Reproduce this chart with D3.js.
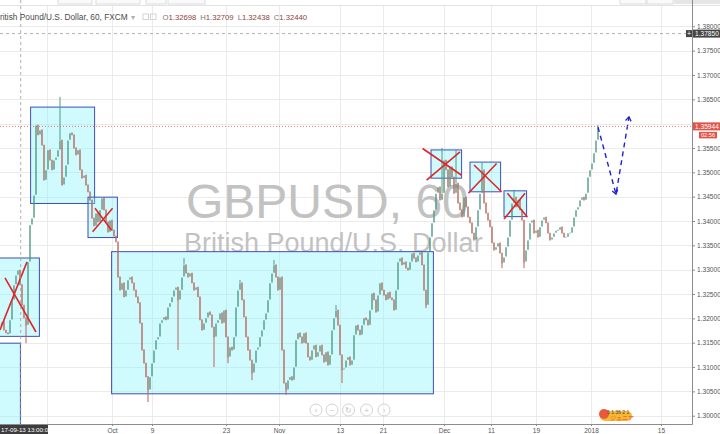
<!DOCTYPE html>
<html><head><meta charset="utf-8">
<script src="https://cdn.jsdelivr.net/npm/d3@7"></script>
<style>html,body{margin:0;padding:0;background:#fff;overflow:hidden}</style>
</head><body><svg id="c" width="720" height="434"></svg>
<script>
// ---- data (GBPUSD, 60, FXCM) sampled closes, one value per bar slot ----
const closes = [
1.3186,1.3193,1.3176,1.3170,1.3168,1.3197,1.3238,1.3269,1.3289,1.3299,
1.3269,1.3227,1.3201,1.3186,1.3316,1.3392,1.3406,1.3453,1.3597,1.3577,
1.3587,1.3556,1.3484,1.3505,1.3546,1.3525,1.3505,1.3525,1.3531,1.3546,
1.3566,1.3474,1.3490,1.3515,1.3566,1.3581,1.3577,1.3550,1.3536,1.3546,
1.3505,1.3488,1.3494,1.3474,1.3460,1.3443,1.3406,1.3390,1.3416,1.3398,
1.3423,1.3447,1.3423,1.3398,1.3377,1.3402,1.3381,1.3369,1.3357,1.3285,
1.3258,1.3273,1.3244,1.3258,1.3279,1.3285,1.3273,1.3258,1.3244,1.3232,
1.3190,1.3135,1.3108,1.3080,1.3053,1.3080,1.3108,1.3135,1.3156,1.3162,
1.3190,1.3197,1.3203,1.3197,1.3223,1.3232,1.3244,1.3258,1.3264,1.3238,
1.3258,1.3285,1.3310,1.3293,1.3285,1.3293,1.3273,1.3258,1.3264,1.3244,
1.3197,1.3176,1.3190,1.3201,1.3213,1.3207,1.3182,1.3162,1.3190,1.3197,
1.3211,1.3190,1.3217,1.3162,1.3121,1.3141,1.3135,1.3162,1.3223,1.3258,
1.3273,1.3238,1.3203,1.3162,1.3135,1.3114,1.3088,1.3108,1.3135,1.3141,
1.3162,1.3176,1.3197,1.3211,1.3238,1.3273,1.3293,1.3310,1.3285,1.3258,
1.3285,1.3135,1.3067,1.3053,1.3073,1.3080,1.3073,1.3100,1.3156,1.3170,
1.3162,1.3149,1.3170,1.3149,1.3121,1.3114,1.3135,1.3145,1.3121,1.3131,
1.3145,1.3125,1.3110,1.3131,1.3104,1.3125,1.3176,1.3201,1.3217,1.3186,
1.3125,1.3094,1.3098,1.3114,1.3121,1.3104,1.3114,1.3166,1.3186,1.3176,
1.3166,1.3186,1.3201,1.3197,1.3186,1.3217,1.3252,1.3238,1.3213,1.3248,
1.3273,1.3258,1.3248,1.3238,1.3254,1.3242,1.3238,1.3217,1.3258,1.3316,
1.3324,1.3310,1.3316,1.3303,1.3299,1.3316,1.3334,1.3324,1.3316,1.3330,
1.3336,1.3310,1.3258,1.3227,1.3336,1.3367,1.3396,1.3423,1.3457,1.3470,
1.3443,1.3457,1.3525,1.3505,1.3470,1.3511,1.3490,1.3457,1.3478,1.3437,
1.3423,1.3408,1.3449,1.3429,1.3408,1.3396,1.3375,1.3361,1.3388,1.3423,
1.3457,1.3505,1.3437,1.3416,1.3402,1.3388,1.3355,1.3340,1.3347,1.3355,
1.3334,1.3314,1.3326,1.3347,1.3367,1.3402,1.3437,1.3449,1.3429,1.3443,
1.3423,1.3402,1.3316,1.3340,1.3361,1.3396,1.3402,1.3375,1.3381,1.3367,
1.3388,1.3402,1.3408,1.3396,1.3375,1.3361,1.3367,1.3375,1.3381,1.3381,
1.3388,1.3375,1.3367,1.3367,1.3375,1.3375,1.3388,1.3408,1.3423,1.3429,
1.3443,1.3449,1.3443,1.3457,1.3490,1.3505,1.3519,1.3540,1.3566,1.3593
];
// notable wick extremes [bar, price]
const wicks = [[13,1.3149],[30,1.3655],[74,1.3028],[89,1.3135],[92,1.3324],[107,1.3100],
 [114,1.3108],[120,1.3279],[126,1.3073],[137,1.3320],[143,1.3043],[168,1.3227],[171,1.3067],
 [213,1.3221],[221,1.3550],[228,1.3546],[241,1.3519],[251,1.3303],[257,1.3464],[262,1.3303],[299,1.3597]];

const priceTicks = [1.300,1.305,1.310,1.315,1.320,1.325,1.330,1.335,1.340,1.345,1.350,1.355,1.360,1.365,1.370,1.375,1.380];
const timeTickBars   = [23.4, 56, 76, 113, 139.5, 170, 191.5, 222, 245.5, 268, 295.5, 330.5];
const timeTickLabels = ["", "Oct", "9", "23", "Nov", "13", "21", "Dec", "11", "19", "2018", "15"];

// drawings: rectangles [bar0, bar1, priceTop, priceBottom]
const boxes = [
 [-6, 19.7, 1.3324, 1.3163],
 [-6, 10.2, 1.3149, 1.2900],
 [15.3, 47.3, 1.3634, 1.3436],
 [44, 58.7, 1.3449, 1.3366],
 [55.8, 216.7, 1.3337, 1.3045],
 [215.5, 230.8, 1.3546, 1.3488],
 [235, 250.3, 1.3521, 1.3460],
 [252, 263.3, 1.3462, 1.3409]
];
// red cross strokes [[bar,price],[bar,price]]
const crosses = [
 [[0,1.3176],[13.5,1.3316]], [[2.5,1.3283],[18,1.3172]],
 [[46.3,1.3378],[56.3,1.3426]], [[47.5,1.3426],[55.8,1.3381]],
 [[211.3,1.3549],[230.8,1.3494]], [[213.3,1.3484],[230,1.3542]],
 [[237,1.3515],[250.8,1.3460]], [[234.2,1.3457],[248.3,1.3518]],
 [[253.7,1.3457],[263.7,1.3408]], [[252,1.3404],[262.5,1.3457]]
];
const projection = [[299,1.3593],[308,1.3455],[314.5,1.3614]];

const lastPrice = 1.35944, countdown = "02:56";
const crossPrice = 1.37850, crossBar = 10.35, crossLabel = "17-09-13 13:00:00";
const legendTitle = "British Pound/U.S. Dollar, 60, FXCM";
const ohlcKeys = ["O","H","L","C"];
const ohlcVals = ["1.32698","1.32709","1.32438","1.32440"];

// ---- scales ----
const PR = 692, PB = 424;
const x = d3.scaleLinear().domain([0, 346]).range([0, PR]);
const y = d3.scaleLinear().domain([1.30, 1.38]).range([415.7, 26.3]);

const svg = d3.select("#c");
const FONT = "'Liberation Sans', Arial, sans-serif";

svg.append("rect").attr("width",720).attr("height",434).attr("fill","#fff");

// top toolbar fragments
const tb = svg.append("g");
[[58,92],[96,140],[146,166],[168,205],[620,646],[647,673]].forEach(d=>{
  tb.append("rect").attr("x",d[0]).attr("y",-4).attr("width",d[1]-d[0]).attr("height",8)
    .attr("fill","#fafafa").attr("stroke","#d4d4d4").attr("stroke-width",0.8);
});
tb.append("rect").attr("x",674).attr("y",-4).attr("width",50).attr("height",8).attr("fill","#e6e6e6");
tb.append("line").attr("x1",0).attr("x2",720).attr("y1",5.5).attr("y2",5.5).attr("stroke","#e2e2e2");

// grid
const grid = svg.append("g");
grid.selectAll("line.h").data(priceTicks).join("line")
  .attr("x1",0).attr("x2",PR).attr("y1",d=>Math.round(y(d))+0.5).attr("y2",d=>Math.round(y(d))+0.5)
  .attr("stroke","#ebebeb");
grid.selectAll("line.v").data(timeTickBars).join("line")
  .attr("x1",d=>Math.round(x(d))+0.5).attr("x2",d=>Math.round(x(d))+0.5).attr("y1",6).attr("y2",PB)
  .attr("stroke","#ebebeb");

// watermark
svg.append("text").attr("x",186).attr("y",218).attr("font-family",FONT).attr("font-size",48)
  .attr("fill","#c2c2c2").text("GBPUSD, 60");
svg.append("text").attr("x",184).attr("y",252).attr("font-family",FONT).attr("font-size",27)
  .attr("fill","#c2c2c2").text("British Pound/U.S. Dollar");

// boxes
svg.append("g").selectAll("rect").data(boxes).join("rect")
  .attr("x",d=>x(d[0])).attr("y",d=>y(d[2]))
  .attr("width",d=>x(d[1])-x(d[0])).attr("height",d=>y(d[3])-y(d[2]))
  .attr("fill","rgba(130,245,252,0.38)").attr("stroke","#3f4fb3").attr("stroke-width",1);

// candles: body from previous close to close
const up = "#4f9a86", dn = "#b7675a";
const cg = svg.append("g");
cg.selectAll("line.w").data(wicks).join("line")
  .attr("x1",d=>x(d[0])).attr("x2",d=>x(d[0]))
  .attr("y1",d=>y(d[1])).attr("y2",d=>y(closes[d[0]]))
  .attr("stroke",d=>closes[d[0]] >= closes[Math.max(0,d[0]-1)] ? up : dn).attr("stroke-width",1);
cg.selectAll("line.b").data(closes).join("line")
  .attr("x1",(d,i)=>x(i)).attr("x2",(d,i)=>x(i))
  .attr("y1",(d,i)=>y(i?closes[i-1]:d)-0.4).attr("y2",d=>y(d)+0.4)
  .attr("stroke",(d,i)=> d >= (i?closes[i-1]:d) ? up : dn).attr("stroke-width",1.4);

// crosses
svg.append("g").selectAll("line").data(crosses).join("line")
  .attr("x1",d=>x(d[0][0])).attr("y1",d=>y(d[0][1]))
  .attr("x2",d=>x(d[1][0])).attr("y2",d=>y(d[1][1]))
  .attr("stroke","#e0262a").attr("stroke-width",1.6);

// projection (dashed blue with arrowheads)
const pj = svg.append("g");
pj.append("path").attr("d",d3.line().x(d=>x(d[0])).y(d=>y(d[1]))(projection))
  .attr("fill","none").attr("stroke","#1f1fd0").attr("stroke-width",1.4).attr("stroke-dasharray","5,4");
function arrowHead(p, from){
  const ax=x(p[0]), ay=y(p[1]), fx=x(from[0]), fy=y(from[1]);
  const ang=Math.atan2(ay-fy, ax-fx), L=5, s=0.6;
  const p1=[ax-L*Math.cos(ang-s), ay-L*Math.sin(ang-s)], p2=[ax-L*Math.cos(ang+s), ay-L*Math.sin(ang+s)];
  pj.append("path").attr("d",`M${p1}L${ax},${ay}L${p2}`).attr("fill","none")
    .attr("stroke","#1f1fd0").attr("stroke-width",1.3);
}
arrowHead(projection[1], projection[0]);
arrowHead(projection[2], projection[1]);

// last price line
svg.append("line").attr("x1",0).attr("x2",PR).attr("y1",y(lastPrice)).attr("y2",y(lastPrice))
  .attr("stroke","#e0574a").attr("stroke-width",0.8).attr("stroke-dasharray","1,2");

// crosshair
svg.append("line").attr("x1",0).attr("x2",PR).attr("y1",y(crossPrice)).attr("y2",y(crossPrice))
  .attr("stroke","#9a9a9a").attr("stroke-width",0.8).attr("stroke-dasharray","3,3");
svg.append("line").attr("x1",x(crossBar)).attr("x2",x(crossBar)).attr("y1",0).attr("y2",PB)
  .attr("stroke","#9a9a9a").attr("stroke-width",0.8).attr("stroke-dasharray","3,3");

// axes (labels hidden where the last-price tag covers them, as in the original)
const covered = p => Math.abs(y(p) - y(lastPrice)) < 6;
const ya = svg.append("g").attr("transform",`translate(${PR},0)`)
  .call(d3.axisRight(y).tickValues(priceTicks).tickFormat(d=>covered(d)?"":d3.format(".5f")(d)).tickSize(3).tickPadding(2));
ya.select(".domain").remove();
ya.selectAll(".tick line").attr("stroke","#8a8a8a");
ya.selectAll("text").attr("font-family",FONT).attr("font-size",6.6).attr("fill","#555");

const xa = svg.append("g").attr("transform",`translate(0,${PB})`)
  .call(d3.axisBottom(x).tickValues(timeTickBars).tickFormat((d,i)=>timeTickLabels[i]).tickSize(2).tickPadding(2));
xa.select(".domain").remove();
xa.selectAll(".tick line").attr("stroke","#8a8a8a");
xa.selectAll("text").attr("font-family",FONT).attr("font-size",6.6).attr("fill","#555");

svg.append("line").attr("x1",PR+0.5).attr("x2",PR+0.5).attr("y1",0).attr("y2",PB+0.5).attr("stroke","#8c8c8c");
svg.append("line").attr("x1",0).attr("x2",PR+0.5).attr("y1",PB+0.5).attr("y2",PB+0.5).attr("stroke","#8c8c8c");

// price labels on axis
function axisTag(p, txt, bg, h, x0){
  svg.append("rect").attr("x",x0).attr("y",y(p)-h/2).attr("width",720-x0).attr("height",h).attr("fill",bg);
  svg.append("text").attr("x",x0+2).attr("y",y(p)).attr("dy","0.35em").attr("font-family",FONT)
    .attr("font-size",6.6).attr("fill","#fff").text(txt);
}
axisTag(lastPrice, d3.format(".5f")(lastPrice), "#e0534a", 8, 693);
svg.append("rect").attr("x",699).attr("y",y(lastPrice)+5.5).attr("width",18).attr("height",6.5).attr("fill","#e0534a");
svg.append("text").attr("x",708).attr("y",y(lastPrice)+8.8).attr("dy","0.35em").attr("text-anchor","middle")
  .attr("font-family",FONT).attr("font-size",5.6).attr("fill","#fff").text(countdown);
axisTag(crossPrice, d3.format(".5f")(crossPrice), "#454545", 8, 693);
svg.append("rect").attr("x",686).attr("y",y(crossPrice)-3.5).attr("width",6).attr("height",7).attr("fill","#454545");
svg.append("text").attr("x",689).attr("y",y(crossPrice)).attr("dy","0.35em").attr("text-anchor","middle")
  .attr("font-family",FONT).attr("font-size",7).attr("fill","#fff").text("+");

// crosshair date label
svg.append("rect").attr("x",0).attr("y",PB+1).attr("width",48).attr("height",10).attr("fill","#3d3d3d");
svg.append("text").attr("x",1).attr("y",PB+6).attr("dy","0.35em").attr("font-family",FONT)
  .attr("font-size",6.2).attr("fill","#fff").text(crossLabel);

// legend (title starts left of the visible area, as in the cropped original)
const lg = svg.append("text").attr("x",-5.6).attr("y",19.5).attr("font-family",FONT).attr("font-size",8.3);
lg.append("tspan").attr("fill","#4a4a4a").text(legendTitle);
lg.append("tspan").attr("fill","#b0b0b0").attr("dx",3).text("▾");
svg.append("rect").attr("x",143).attr("y",14).attr("width",5.5).attr("height",5.5).attr("fill","none").attr("stroke","#c8c8c8").attr("stroke-width",0.8);
svg.append("rect").attr("x",150.5).attr("y",14).attr("width",5.5).attr("height",5.5).attr("fill","none").attr("stroke","#c8c8c8").attr("stroke-width",0.8);
const ol = svg.append("text").attr("x",162.5).attr("y",19.5).attr("font-family",FONT).attr("font-size",7.7);
ohlcKeys.forEach((k,i)=>{
  ol.append("tspan").attr("fill","#777").attr("dx",i?4:0).text(k);
  ol.append("tspan").attr("fill","#8e4438").text(ohlcVals[i]);
});

// navigation buttons
const navX = [316, 332, 348.5, 366.5, 384], navG = ["‹","−","↻","+","›"];
const ng = svg.append("g");
navX.forEach((cx,i)=>{
  ng.append("circle").attr("cx",cx).attr("cy",410).attr("r",6).attr("fill","rgba(255,255,255,0.6)").attr("stroke","#d2d2d2");
  ng.append("text").attr("x",cx).attr("y",410).attr("dy","0.35em").attr("text-anchor","middle")
    .attr("font-family",FONT).attr("font-size",8).attr("fill","#c2c2c2").text(navG[i]);
});

// small badge logo bottom-right of data
const bg = svg.append("g");
bg.append("rect").attr("x",600).attr("y",411).attr("width",32).attr("height",10).attr("rx",5).attr("fill","#f7b733");
bg.append("circle").attr("cx",604).attr("cy",414).attr("r",5).attr("fill","#ea5a3a");
bg.append("text").attr("x",607).attr("y",414).attr("font-family",FONT).attr("font-size",5).attr("fill","#444").text("5 1  36 2 1");
bg.append("text").attr("x",610).attr("y",420).attr("font-family",FONT).attr("font-size",5.5).attr("fill","#e8402a").text("ジュニア");
</script></body></html>
